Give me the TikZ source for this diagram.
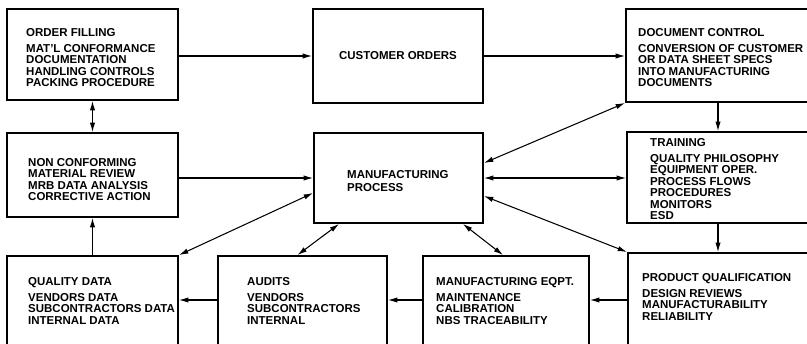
\documentclass[tikz,border=0pt]{standalone}
\usepackage{fontspec}
\setmainfont{Liberation Sans}
\usetikzlibrary{arrows.meta,fit,calc}

\begin{document}
\begin{tikzpicture}[x=0.03cm, y=-0.03cm,
  box/.style={draw, line width=1.6pt, inner sep=0pt},
  txt/.style={anchor=north west, inner sep=0pt, align=left, font=\fontsize{9.8}{9.8}\selectfont\bfseries},
  arr/.style={line width=0.9pt, -{Latex[length=8pt,width=4.5pt]}},
  dbl/.style={line width=0.9pt, {Latex[length=8pt,width=4.5pt]}-{Latex[length=8pt,width=4.5pt]}}]
  \useasboundingbox (0,0) rectangle (807,344);
  \fill[white] (0,0) rectangle (807,344);
  \clip (0,0) rectangle (807,344);

  % Top row
  \node[box, fit={(7,9) (178,100)}] (of) {};
  \node[box, fit={(313,9) (483,103)}] (co) {};
  \node[box, fit={(626,9) (840,102)}] (dc) {};

  % Middle row
  \node[box, fit={(7,133) (178,217)}] (nc) {};
  \node[box, fit={(314,133) (483,223)}] (mp) {};
  \node[box, fit={(627,132) (840,223)}] (tr) {};

  % Bottom row (cut off by the page edge)
  \node[box, fit={(7,256) (178,380)}] (qd) {};
  \node[box, fit={(218,256) (387,380)}] (au) {};
  \node[box, fit={(423,256) (589,380)}] (me) {};
  \node[box, fit={(628,253) (840,380)}] (pq) {};

  % Box texts
  \node[txt] (ofText) at (26,28) {ORDER FILLING\\[3.8pt] MAT'L CONFORMANCE\\ DOCUMENTATION\\ HANDLING CONTROLS\\ PACKING PROCEDURE};
  \node[txt, anchor=center] (coText) at (co.center) {CUSTOMER ORDERS};
  \node[txt] (dcText) at (638,28) {DOCUMENT CONTROL\\[3.8pt] CONVERSION OF CUSTOMER\\ OR DATA SHEET SPECS\\ INTO MANUFACTURING\\ DOCUMENTS};
  \node[txt] (ncText) at (28,158) {NON CONFORMING\\ MATERIAL REVIEW\\ MRB DATA ANALYSIS\\ CORRECTIVE ACTION};
  \node[txt] (mpText) at (347,170) {MANUFACTURING\\[1.5pt] PROCESS};
  \node[txt] (trText) at (650,138) {TRAINING\\[3.8pt] QUALITY PHILOSOPHY\\ EQUIPMENT OPER.\\ PROCESS FLOWS\\ PROCEDURES\\ MONITORS\\ ESD};
  \node[txt] (qdText) at (28,277) {QUALITY DATA\\[3.8pt] VENDORS DATA\\ SUBCONTRACTORS DATA\\ INTERNAL DATA};
  \node[txt] (auText) at (247,277) {AUDITS\\[3.8pt] VENDORS\\ SUBCONTRACTORS\\ INTERNAL};
  \node[txt] (meText) at (436,277) {MANUFACTURING EQPT.\\[3.8pt] MAINTENANCE\\ CALIBRATION\\ NBS TRACEABILITY};
  \node[txt] (pqText) at (642,273) {PRODUCT QUALIFICATION\\[3.8pt] DESIGN REVIEWS\\ MANUFACTURABILITY\\ RELIABILITY};

  % Helper coordinates
  \coordinate (colX) at (718,0);
  \coordinate (rowY) at (0,300);

  % Top row flow
  \draw[arr] (of.east |- co.west) -- (co.west);
  \draw[arr] (co.east) -- (dc.west |- co.east);

  % Left column
  \draw[dbl] (of.south) -- (nc.north);
  \draw[arr] (qd.north) -- (nc.south);
  \draw[arr] (nc.east |- mp.west) -- (mp.west);

  % Right column
  \draw[arr] (dc.south -| colX) -- (tr.north -| colX);
  \draw[arr] (tr.south -| colX) -- (pq.north -| colX);

  % Links to manufacturing process
  \draw[dbl] (mp.east) -- (tr.west |- mp.east);
  \draw[dbl] ($(mp.east)+(0,-15)$) -- (dc.south west);
  \draw[dbl] ($(mp.east)+(0,18)$) -- (pq.north west);
  \draw[dbl] ($(mp.west)+(0,15)$) -- (qd.north east);
  \draw[dbl] ($(mp.south west)+(26,0)$) -- ($(au.north)+(-5,0)$);
  \draw[dbl] ($(mp.south east)+(-21,0)$) -- ($(me.north)+(-3,0)$);

  % Bottom row flow
  \draw[arr] (pq.west |- rowY) -- (me.east |- rowY);
  \draw[arr] (me.west |- rowY) -- (au.east |- rowY);
  \draw[arr] (au.west |- rowY) -- (qd.east |- rowY);
\end{tikzpicture}
\end{document}
